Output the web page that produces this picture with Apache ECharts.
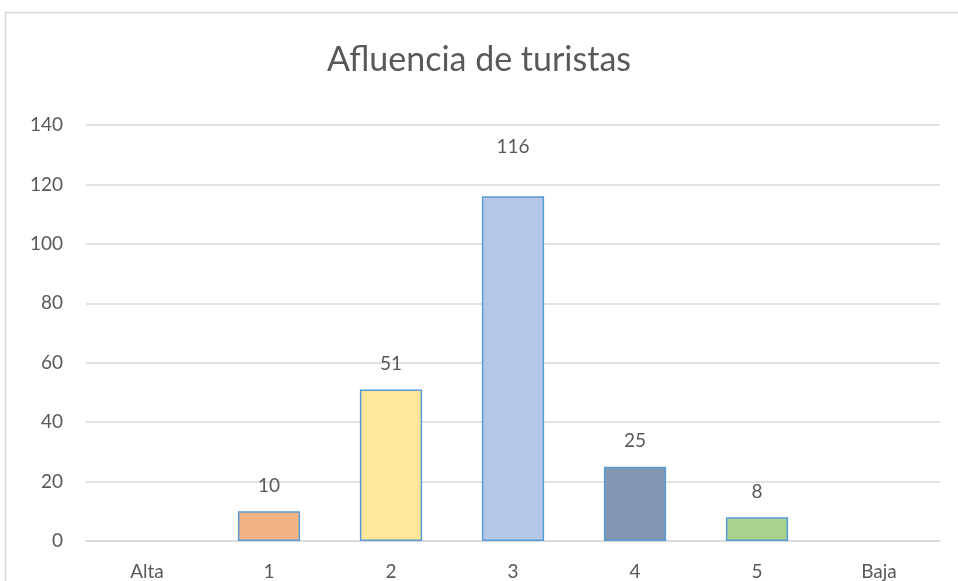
<!DOCTYPE html>
<html>
<head>
<meta charset="utf-8">
<script src="https://cdn.jsdelivr.net/npm/echarts@6/dist/echarts.min.js"></script>
<style>
html,body{margin:0;padding:0;background:#fff;}
#chart{width:958px;height:581px;}
</style>
</head>
<body>
<div id="chart"></div>
<script>
// datos del grafico
var categorias = ['Alta', '1', '2', '3', '4', '5', 'Baja'];
var valores = [null, 10, 51, 116, 25, 8, null];
var colores = ['#F4B183', '#F4B183', '#FFE699', '#B4C7E7', '#8497B0', '#A9D18E', '#A9D18E'];
var ticksY = [0, 20, 40, 60, 80, 100, 120, 140];

var fuente = 'Lato, "Open Sans", sans-serif';

var myChart = echarts.init(document.getElementById('chart'));
var option = {
	backgroundColor: '#fff',
	animation: false,
	title: {
		text: 'Afluencia de turistas',
		left: 'center',
		top: 38,
		textStyle: {
			color: '#595959',
			fontSize: 34,
			fontWeight: 'normal',
			fontFamily: fuente
		}
	},
	graphic: [{
		type: 'rect',
		shape: {x: 5.5, y: 12.5, width: 960, height: 600},
		style: {fill: 'none', stroke: '#D9D9D9', lineWidth: 1.5},
		silent: true
	}],
	grid: {
		left: 86,
		right: 18,
		top: 125,
		bottom: 40
	},
	xAxis: {
		type: 'category',
		data: categorias,
		axisLine: {lineStyle: {color: '#D9D9D9', width: 1.5}},
		axisTick: {show: false},
		axisLabel: {
			color: '#595959',
			fontSize: 19,
			fontFamily: fuente,
			margin: 21
		}
	},
	yAxis: {
		type: 'value',
		min: ticksY[0],
		max: ticksY[ticksY.length - 1],
		interval: 20,
		axisLine: {show: false},
		axisTick: {show: false},
		splitLine: {lineStyle: {color: '#D9D9D9', width: 1.5}},
		axisLabel: {
			color: '#595959',
			fontSize: 19,
			fontFamily: fuente,
			margin: 23
		}
	},
	series: [{
		type: 'bar',
		data: valores.map(function (v, i) {
			var d = {
				value: v,
				itemStyle: {color: colores[i]}
			};
			// la etiqueta de 116 esta mas separada en el original
			if (v === 116) d.label = {distance: 40};
			return d;
		}),
		barWidth: '51%',
		itemStyle: {
			borderColor: '#5B9BD5',
			borderWidth: 1.5
		},
		label: {
			show: true,
			position: 'top',
			distance: 16,
			color: '#595959',
			fontSize: 19,
			fontFamily: fuente
		}
	}]
};
myChart.setOption(option);
</script>
</body>
</html>
